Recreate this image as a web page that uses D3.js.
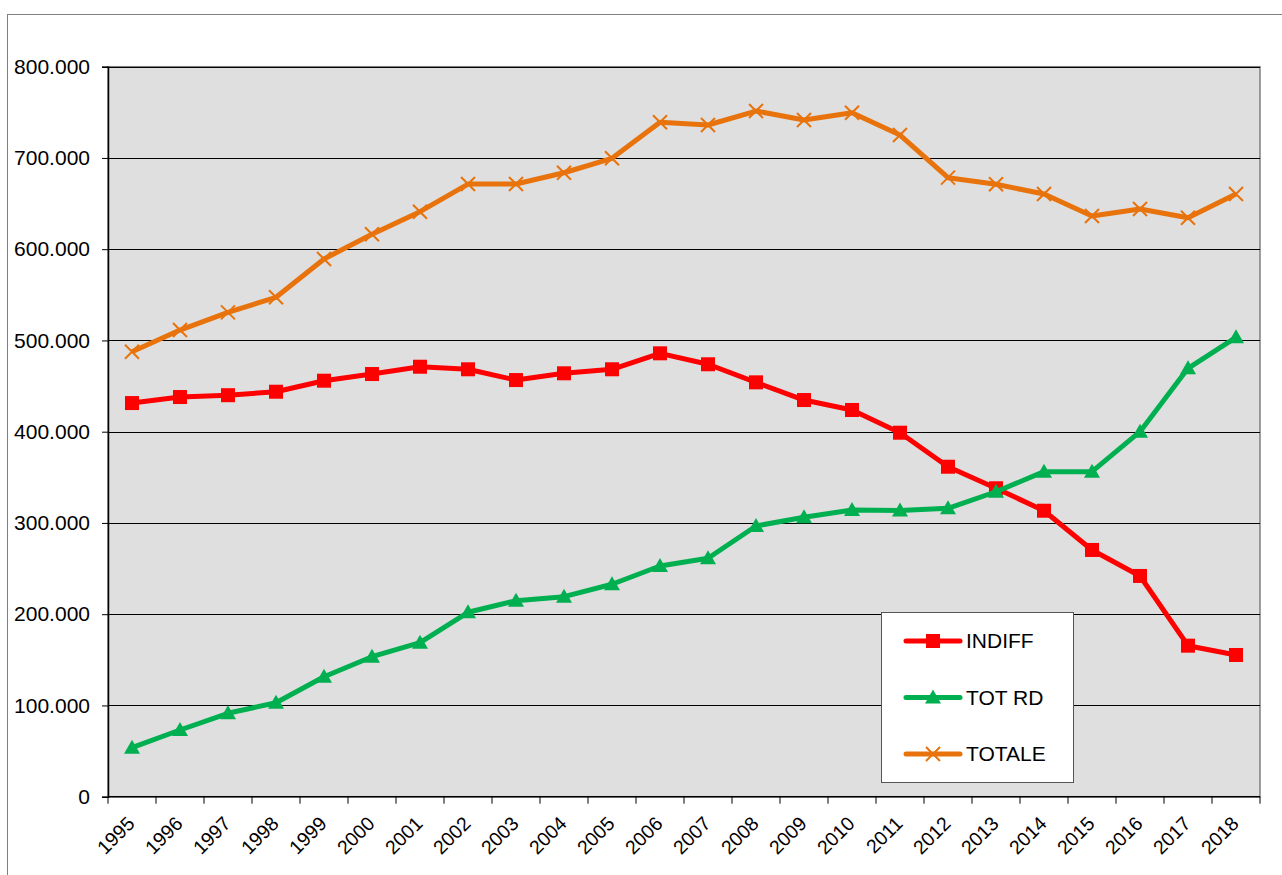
<!DOCTYPE html>
<html>
<head>
<meta charset="utf-8">
<script src="https://cdn.jsdelivr.net/npm/d3@7"></script>
<style>
  html, body { margin: 0; padding: 0; background: #fff; }
  svg { display: block; font-family: "Liberation Sans", Arial, sans-serif; }
</style>
</head>
<body>
<svg id="chart" width="1282" height="875"></svg>
<script>
const years = ["1995","1996","1997","1998","1999","2000","2001","2002","2003","2004","2005","2006",
               "2007","2008","2009","2010","2011","2012","2013","2014","2015","2016","2017","2018"];

const indiff = [431400, 438000, 440000, 443800, 455900, 463200, 471200, 468400, 456600, 464000, 468400, 485900,
                473900, 454100, 434700, 423800, 398900, 361600, 338000, 313400, 270400, 241900, 165500, 155300];
const totRd  = [53700, 73100, 91400, 103000, 131500, 153400, 168800, 202100, 214800, 219200, 232800, 252800,
                261300, 296700, 306200, 314200, 313600, 316000, 334200, 356200, 356200, 400000, 469500, 503400];
const totale = [487700, 511400, 530800, 547300, 589300, 616300, 641100, 671400, 671400, 683800, 699600, 739100,
                736100, 751400, 741600, 749600, 725100, 678400, 671100, 660500, 636400, 644100, 634500, 660500];

const yTicks = [0, 100000, 200000, 300000, 400000, 500000, 600000, 700000, 800000];

const series = [
  { name: "INDIFF", values: indiff, color: "#ff0000", marker: "square" },
  { name: "TOT RD", values: totRd,  color: "#00b050", marker: "triangle" },
  { name: "TOTALE", values: totale, color: "#e8730c", marker: "cross" }
];

const svg = d3.select("#chart");
const plot = { left: 108, right: 1260, top: 66.7, bottom: 796.7 };

// outer frame of the chart object
svg.append("rect").attr("x", 7.5).attr("y", 14.5).attr("width", 1300).attr("height", 900)
  .attr("fill", "#fff").attr("stroke", "#808080").attr("stroke-width", 1);

const x = d3.scaleBand().domain(years).range([plot.left, plot.right]);
const y = d3.scaleLinear().domain([0, 800000]).range([plot.bottom, plot.top]);
const cx = d => x(d) + x.bandwidth() / 2;

// plot area
svg.append("rect").attr("x", plot.left).attr("y", plot.top)
  .attr("width", plot.right - plot.left).attr("height", plot.bottom - plot.top)
  .attr("fill", "#dfdfdf").attr("stroke", "#808080").attr("stroke-width", 1.5);

// gridlines
svg.append("g").selectAll("line").data(yTicks.filter(t => t > 0)).join("line")
  .attr("x1", plot.left).attr("x2", plot.right)
  .attr("y1", d => Math.round(y(d)) + 0.5).attr("y2", d => Math.round(y(d)) + 0.5)
  .attr("stroke", "#000").attr("stroke-width", 1);

// y axis
const fmt = d => d === 0 ? "0" : d3.format(",")(d).replace(/,/g, ".");
const yAxis = svg.append("g").attr("transform", `translate(${plot.left},0)`)
  .call(d3.axisLeft(y).tickValues(yTicks).tickSize(6).tickPadding(12).tickFormat(fmt));
yAxis.select(".domain").attr("stroke", "#000").attr("stroke-width", 1.5);
yAxis.selectAll(".tick line").attr("stroke", "#000");
yAxis.selectAll(".tick text").attr("font-size", 21).attr("fill", "#000")
  .attr("font-family", "'Liberation Sans', Arial, sans-serif");

// x axis: ticks on category boundaries
const xAxisG = svg.append("g");
xAxisG.append("line").attr("x1", plot.left).attr("x2", plot.right)
  .attr("y1", plot.bottom).attr("y2", plot.bottom).attr("stroke", "#000").attr("stroke-width", 1.5);
const bounds = years.map(d => x(d)).concat([x(years[years.length - 1]) + x.bandwidth()]);
xAxisG.selectAll("line.tk").data(bounds).join("line").attr("class", "tk")
  .attr("x1", d => d).attr("x2", d => d)
  .attr("y1", plot.bottom).attr("y2", plot.bottom + 7).attr("stroke", "#000");
xAxisG.selectAll("text").data(years).join("text")
  .attr("transform", d => `translate(${cx(d) - 1},820) rotate(-45)`)
  .attr("text-anchor", "end").attr("dy", "0.35em")
  .attr("font-size", 19.5).attr("fill", "#000").text(d => d);

// lines and markers
const line = d3.line().x((v, i) => cx(years[i])).y(v => y(v));

function drawMarker(g, type, color, px, py) {
  if (type === "square") {
    g.append("rect").attr("x", px - 7).attr("y", py - 7).attr("width", 14).attr("height", 14).attr("fill", color);
  } else if (type === "triangle") {
    g.append("path").attr("d", `M${px},${py - 8}L${px + 8},${py + 6}L${px - 8},${py + 6}Z`).attr("fill", color);
  } else {
    g.append("path").attr("d", `M${px - 7},${py - 7}L${px + 7},${py + 7}M${px - 7},${py + 7}L${px + 7},${py - 7}`)
      .attr("stroke", color).attr("stroke-width", 2).attr("fill", "none");
  }
}

series.forEach(s => {
  const g = svg.append("g");
  g.append("path").datum(s.values).attr("d", line)
    .attr("fill", "none").attr("stroke", s.color).attr("stroke-width", 5)
    .attr("stroke-linejoin", "round");
  s.values.forEach((v, i) => drawMarker(g, s.marker, s.color, cx(years[i]), y(v)));
});

// legend
const lg = svg.append("g");
lg.append("rect").attr("x", 881.5).attr("y", 612.5).attr("width", 192).attr("height", 170)
  .attr("fill", "#fff").attr("stroke", "#555").attr("stroke-width", 1);
const legendY = [641, 697.5, 754];
series.forEach((s, i) => {
  const ly = legendY[i];
  lg.append("line").attr("x1", 906).attr("x2", 960).attr("y1", ly).attr("y2", ly)
    .attr("stroke", s.color).attr("stroke-width", 5).attr("stroke-linecap", "round");
  drawMarker(lg, s.marker, s.color, 933, ly);
  lg.append("text").attr("x", 966).attr("y", ly).attr("dy", "0.35em")
    .attr("font-size", 21).attr("fill", "#000").text(s.name);
});
</script>
</body>
</html>
